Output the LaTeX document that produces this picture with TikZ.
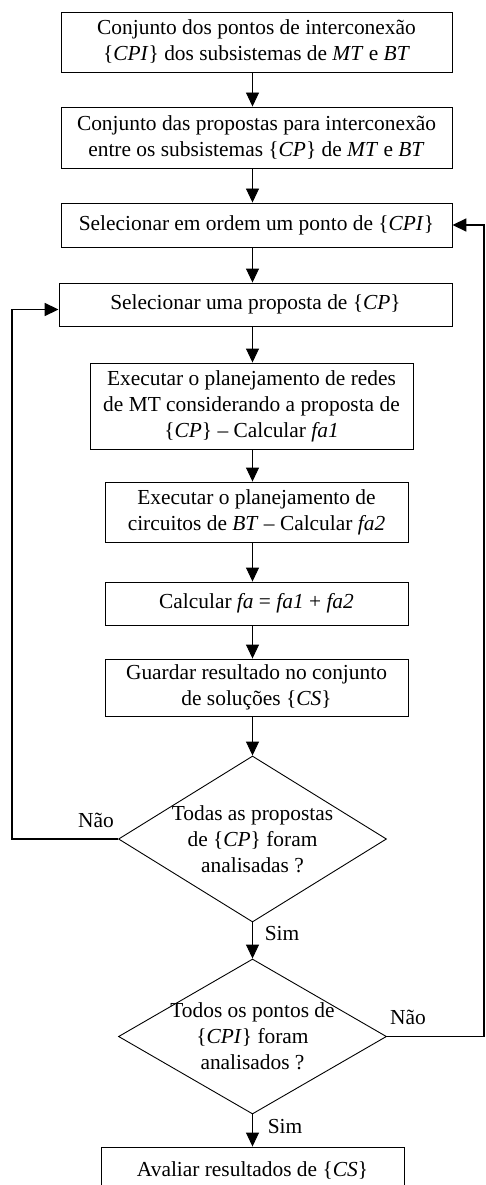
\documentclass[tikz,border=0pt]{standalone}
\usepackage{fontspec}
\setmainfont{Liberation Serif}
\usetikzlibrary{arrows.meta,shapes.geometric}
\begin{document}
\begin{tikzpicture}[x=1pt,y=-1pt,
  txt/.style={font=\fontsize{21.4}{26}\selectfont},
  box/.style={txt,draw,line width=0.9pt,align=center,inner sep=0pt},
  dec/.style={draw,line width=0.9pt,shape=diamond,inner sep=0pt,minimum width=268,minimum height=#1},
  dtext/.style={txt,align=center,inner sep=0pt},
  arr/.style={line width=0.9pt,-{Triangle[length=14pt,width=13pt]}},
  back/.style={line width=1.8pt,-{Triangle[length=14pt,width=13pt]}},
  lbl/.style={txt,inner sep=0pt}]
\clip (0,0) rectangle (485,1185);
\coordinate (ax) at (252.5,0);
\coordinate (lx) at (12,0);
\coordinate (rx) at (484,0);

\node[box,minimum width=391,minimum height=60] (b1) at (256.5,42)
  {Conjunto dos pontos de interconexão\\\{\textit{CPI}\} dos subsistemas de \textit{MT} e \textit{BT}};
\node[box,minimum width=391,minimum height=61] (b2) at (256.5,137.5)
  {Conjunto das propostas para interconexão\\entre os subsistemas \{\textit{CP}\} de \textit{MT} e \textit{BT}};
\node[box,minimum width=391,minimum height=44] (b3) at (256.5,225)
  {Selecionar em ordem um ponto de \{\textit{CPI}\}};
\node[box,minimum width=393,minimum height=43] (b4) at (255.5,304.5)
  {Selecionar uma proposta de \{\textit{CP}\}};
\node[box,minimum width=323,minimum height=86] (b5) at (251.5,406)
  {Executar o planejamento de redes\\de MT considerando a proposta de\\\{\textit{CP}\} -- Calcular \textit{fa1}};
\node[box,minimum width=303,minimum height=60] (b6) at (256.5,512)
  {Executar o planejamento de\\circuitos de \textit{BT} -- Calcular \textit{fa2}};
\node[box,minimum width=303,minimum height=43] (b7) at (256.5,603.5)
  {Calcular \textit{fa} = \textit{fa1} + \textit{fa2}};
\node[box,minimum width=303,minimum height=57] (b8) at (256.5,687.5)
  {Guardar resultado no conjunto\\de soluções \{\textit{CS}\}};
\node[dec=166,label={[dtext]center:Todas as propostas\\de \{\textit{CP}\} foram\\analisadas ?}] (d1) at (252.5,839) {};
\node[dec=155,label={[dtext]center:Todos os pontos de\\\{\textit{CPI}\} foram\\analisados ?}] (d2) at (252.5,1036.5) {};
\node[box,minimum width=303,minimum height=46] (b9) at (252.5,1170)
  {Avaliar resultados de \{\textit{CS}\}};

\draw[arr] (b1.south -| ax) -- (b2.north -| ax);
\draw[arr] (b2.south -| ax) -- (b3.north -| ax);
\draw[arr] (b3.south -| ax) -- (b4.north -| ax);
\draw[arr] (b4.south -| ax) -- (b5.north -| ax);
\draw[arr] (b5.south -| ax) -- (b6.north -| ax);
\draw[arr] (b6.south -| ax) -- (b7.north -| ax);
\draw[arr] (b7.south -| ax) -- (b8.north -| ax);
\draw[arr] (b8.south -| ax) -- (d1.north);
\draw[arr] (d1.south) -- (d2.north);
\draw[arr] (d2.south) -- (b9.north -| ax);
\draw[back] (d1.west) -- (d1.west -| lx) |- ([yshift=-5pt]b4.west);
\draw[back] (d2.east) -- (d2.east -| rx) |- (b3.east);

\node[lbl] (nao1) at (96,820) {Não};
\node[lbl] (nao2) at (408,1017) {Não};
\node[lbl] (sim1) at (282,934) {Sim};
\node[lbl] (sim2) at (285,1127) {Sim};
\end{tikzpicture}
\end{document}
